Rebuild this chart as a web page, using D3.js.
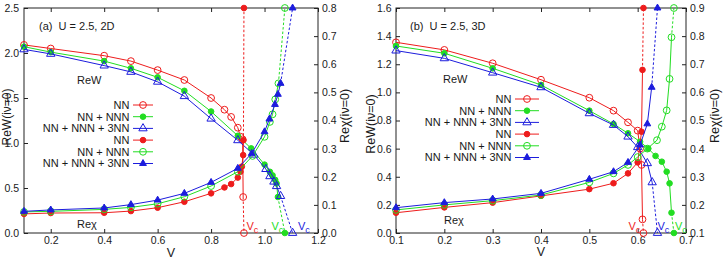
<!DOCTYPE html>
<html><head><meta charset="utf-8">
<script src="https://cdn.jsdelivr.net/npm/d3@7"></script>
<style>
body{margin:0;background:#fff}
svg{display:block}
text{font-family:"Liberation Sans",Arial,sans-serif;fill:#1a1a1a}
</style>
</head><body>
<svg id="c" width="723" height="259"></svg>
<script>
// ---------------- DATA ----------------
// Panel (a): U = 2.5, 2D
const aXTicks = [0.2,0.4,0.6,0.8,1.0,1.2];
const aYLTicks = [0,0.5,1.0,1.5,2.0,2.5];
const aYRTicks = [0,0.1,0.2,0.3,0.4,0.5,0.6,0.7,0.8];

const aReW_NN_V   = [0.1,0.2,0.4,0.5,0.6,0.7,0.8,0.85,0.875,0.9,0.91,0.918,0.92];
const aReW_NN     = [2.09,2.05,1.97,1.91,1.81,1.70,1.50,1.37,1.29,1.17,1.07,1.04,0.40];
const aReW_NN_tV  = [0.923];
const aReW_NN_t   = [0];

const aReW_NNN_V  = [0.1,0.2,0.4,0.5,0.6,0.7,0.8,0.9,0.95,1.0,1.02,1.03,1.04,1.045,1.05];
const aReW_NNN    = [2.07,2.01,1.91,1.83,1.73,1.58,1.35,1.08,0.94,0.76,0.68,0.64,0.59,0.55,0.40];
const aReW_NNN_tV = [1.076];
const aReW_NNN_t  = [0];

const aReW_3NN_V  = [0.1,0.2,0.4,0.5,0.6,0.7,0.8,0.9,0.96,1.005,1.02,1.035,1.045,1.06];
const aReW_3NN    = [2.04,1.99,1.86,1.79,1.68,1.52,1.27,1.03,0.87,0.71,0.63,0.57,0.52,0.41];
const aReW_3NN_tV = [1.105];
const aReW_3NN_t  = [0];

const aChi_NN_V   = [0.1,0.2,0.4,0.5,0.6,0.7,0.8,0.85,0.875,0.9,0.91,0.915,0.92,0.921];
const aChi_NN     = [0.068,0.071,0.072,0.078,0.09,0.111,0.141,0.162,0.174,0.197,0.218,0.236,0.277,0.33];
const aChi_NN_tV  = [0.923];
const aChi_NN_t   = [0.8];

const aChi_NNN_V  = [0.1,0.2,0.4,0.5,0.6,0.7,0.8,0.9,0.955,1.0,1.02,1.03,1.04,1.052];
const aChi_NNN    = [0.075,0.077,0.084,0.091,0.104,0.129,0.167,0.218,0.274,0.342,0.395,0.422,0.475,0.532];
const aChi_NNN_tV = [1.076];
const aChi_NNN_t  = [0.8];

const aChi_3NN_V  = [0.1,0.2,0.4,0.5,0.6,0.7,0.8,0.9,0.952,1.0,1.018,1.039,1.05,1.06];
const aChi_3NN    = [0.077,0.082,0.089,0.101,0.117,0.141,0.18,0.23,0.283,0.36,0.405,0.457,0.493,0.532];
const aChi_3NN_tV = [1.105];
const aChi_3NN_t  = [0.8];

// Panel (b): U = 2.5, 3D
const bXTicks = [0.1,0.2,0.3,0.4,0.5,0.6,0.7];
const bYLTicks = [0,0.2,0.4,0.6,0.8,1.0,1.2,1.4,1.6];
const bYRTicks = [0.1,0.2,0.3,0.4,0.5,0.6,0.7,0.8,0.9];

const bReW_NN_V   = [0.1,0.2,0.3,0.4,0.5,0.55,0.58,0.6,0.605,0.608,0.61];
const bReW_NN     = [1.356,1.302,1.207,1.09,0.962,0.87,0.787,0.728,0.60,0.484,0.097];
const bReW_NN_tV  = [0.612];
const bReW_NN_t   = [0];

const bReW_NNN_V  = [0.1,0.2,0.3,0.4,0.5,0.55,0.58,0.605,0.622,0.637,0.65,0.66,0.666,0.67];
const bReW_NNN    = [1.33,1.278,1.171,1.053,0.87,0.775,0.709,0.649,0.60,0.548,0.507,0.436,0.353,0.144];
const bReW_NNN_tV = [0.675];
const bReW_NNN_t  = [0];

const bReW_3NN_V  = [0.1,0.2,0.3,0.4,0.5,0.55,0.58,0.6,0.62,0.63];
const bReW_3NN    = [1.297,1.242,1.14,1.036,0.851,0.768,0.685,0.61,0.496,0.36];
const bReW_3NN_tV = [0.641];
const bReW_3NN_t  = [0];

const bChi_NN_V   = [0.1,0.2,0.3,0.4,0.5,0.55,0.58,0.6,0.608,0.61];
const bChi_NN     = [0.172,0.191,0.208,0.232,0.256,0.277,0.312,0.351,0.46,0.68];
const bChi_NN_tV  = [0.612];
const bChi_NN_t   = [0.9];

const bChi_NNN_V  = [0.1,0.2,0.3,0.4,0.5,0.55,0.58,0.6,0.62,0.64,0.65,0.66,0.666,0.67];
const bChi_NNN    = [0.182,0.2,0.215,0.235,0.28,0.312,0.342,0.37,0.40,0.43,0.478,0.536,0.648,0.796];
const bChi_NNN_tV = [0.675];
const bChi_NNN_t  = [0.9];

const bChi_3NN_V  = [0.1,0.2,0.3,0.4,0.5,0.55,0.58,0.605,0.62,0.629];
const bChi_3NN    = [0.19,0.208,0.221,0.241,0.291,0.318,0.351,0.413,0.488,0.618];
const bChi_3NN_tV = [0.641];
const bChi_3NN_t  = [0.9];

const legendLabels = ["NN","NN + NNN","NN + NNN + 3NN","NN","NN + NNN","NN + NNN + 3NN"];

// ---------------- STYLE ----------------
const RED="#ee1c1c", GREEN="#22dd22", BLUE="#1c1cdd";
const styles = [
  {c:RED,  m:"circle",   fill:false},
  {c:GREEN,m:"circle",   fill:true},
  {c:BLUE, m:"triangle", fill:false},
  {c:RED,  m:"circle",   fill:true},
  {c:GREEN,m:"circle",   fill:false},
  {c:BLUE, m:"triangle", fill:true}
];

const zip = (a,b)=>a.map((v,i)=>[v,b[i]]);
const svg = d3.select("#c");
const TOP=8, BOT=233;

function marker(g, st, px, py){
  if(st.m==="circle"){
    g.append("circle").attr("cx",px).attr("cy",py).attr("r",st.fill?2.8:3.4)
      .attr("fill",st.fill?st.c:"none").attr("stroke",st.c).attr("stroke-width",1);
  } else {
    g.append("path").attr("d",d3.symbol(d3.symbolTriangle, st.fill?20:30)())
      .attr("transform",`translate(${px},${py})`)
      .attr("fill",st.fill?st.c:"none").attr("stroke",st.c).attr("stroke-width",1);
  }
}

function panel(p){
  const g = svg.append("g");
  const x = d3.scaleLinear().domain(p.xDom).range([p.x0,p.x1]);
  const yL = d3.scaleLinear().domain(p.yLDom).range([BOT,TOP]);
  const yR = d3.scaleLinear().domain(p.yRDom).range([BOT,TOP]);
  const f = d3.format(".1f");
  const styleAxis = a => { a.select(".domain").remove(); a.selectAll("line").attr("stroke","#222");
    a.selectAll("text").attr("font-size",10.5).attr("font-family",null); a.attr("font-family",null); };

  g.append("g").attr("transform",`translate(0,${BOT})`)
    .call(d3.axisBottom(x).tickValues(p.xTicks).tickFormat(f).tickSize(-4).tickPadding(4)).call(styleAxis);
  g.append("g").attr("transform",`translate(0,${TOP})`)
    .call(d3.axisTop(x).tickValues(p.xTicks).tickFormat("").tickSize(-4)).call(styleAxis);
  g.append("g").attr("transform",`translate(${p.x0},0)`)
    .call(d3.axisLeft(yL).tickValues(p.yLTicks).tickFormat(f).tickSize(-4).tickPadding(p.lpad)).call(styleAxis);
  g.append("g").attr("transform",`translate(${p.x1},0)`)
    .call(d3.axisRight(yR).tickValues(p.yRTicks).tickFormat(f).tickSize(-4).tickPadding(4)).call(styleAxis);

  g.append("rect").attr("x",p.x0).attr("y",TOP).attr("width",p.x1-p.x0).attr("height",BOT-TOP)
    .attr("fill","none").attr("stroke","#222").attr("stroke-width",1);

  // series
  p.series.forEach((s,i)=>{
    const st = styles[i];
    const y = i<3 ? yL : yR;
    const line = d3.line().x(d=>x(d[0])).y(d=>y(d[1]));
    const main = zip(s[0],s[1]);
    const tail = zip(s[2],s[3]);
    g.append("path").attr("d",line(main)).attr("fill","none").attr("stroke",st.c).attr("stroke-width",1);
    g.append("path").attr("d",line([main[main.length-1]].concat(tail))).attr("fill","none")
      .attr("stroke",st.c).attr("stroke-width",1).attr("stroke-dasharray","2.5,2");
    main.concat(tail).forEach(d=>marker(g,st,x(d[0]),y(d[1])));
  });

  // legend
  legendLabels.forEach((t,i)=>{
    const st = styles[i];
    const yy = p.legY + i*11.7;
    g.append("text").attr("x",p.legX).attr("y",yy).attr("dy","0.35em").attr("text-anchor","end")
      .attr("font-size",11).text(t);
    g.append("line").attr("x1",p.legX+3.5).attr("x2",p.legX+3.5+p.legL).attr("y1",yy).attr("y2",yy)
      .attr("stroke",st.c).attr("stroke-width",1);
    marker(g,st,p.legX+3.5+p.legL/2,yy);
  });

  // labels
  g.append("text").attr("x",p.titleX).attr("y",29.5).attr("font-size",11).attr("xml:space","preserve").text(p.title);
  g.append("text").attr("x",p.rewX).attr("y",p.rewY).attr("font-size",11).text("ReW");
  g.append("text").attr("x",p.chiX).attr("y",p.chiY).attr("font-size",11).text("Reχ");
  g.append("text").attr("x",(p.x0+p.x1)/2).attr("y",p.vY).attr("text-anchor","middle").attr("font-size",12.5).text("V");
  g.append("text").attr("transform",`translate(${p.lLabX},${p.lLabY}) rotate(-90)`).attr("text-anchor","middle")
    .attr("dominant-baseline","central").attr("font-size",p.lLabF).text("ReW(iν=0)");
  g.append("text").attr("transform",`translate(${p.rLabX},${p.rLabY}) rotate(-90)`).attr("text-anchor","middle")
    .attr("dominant-baseline","central").attr("font-size",12.5).text("Reχ(iν=0)");

  // Vc markers
  p.vc.forEach((vx,i)=>{
    const t = g.append("text").attr("x",vx).attr("y",229.5).attr("font-size",11).attr("fill",[RED,GREEN,BLUE][i])
      .style("fill",[RED,GREEN,BLUE][i]);
    t.append("tspan").text("V");
    t.append("tspan").attr("dy",3).attr("font-size",9).text("c");
  });
}

panel({
  xDom:[0.1,1.2], x0:24, x1:318, yLDom:[0,2.5], yRDom:[0,0.8],
  xTicks:aXTicks, yLTicks:aYLTicks, yRTicks:aYRTicks, lpad:5,
  series:[
    [aReW_NN_V,aReW_NN,aReW_NN_tV,aReW_NN_t],
    [aReW_NNN_V,aReW_NNN,aReW_NNN_tV,aReW_NNN_t],
    [aReW_3NN_V,aReW_3NN,aReW_3NN_tV,aReW_3NN_t],
    [aChi_NN_V,aChi_NN,aChi_NN_tV,aChi_NN_t],
    [aChi_NNN_V,aChi_NNN,aChi_NNN_tV,aChi_NNN_t],
    [aChi_3NN_V,aChi_3NN,aChi_3NN_tV,aChi_3NN_t]
  ],
  legX:129.5, legY:105, legL:20,
  title:"(a)  U = 2.5, 2D", titleX:39,
  rewX:77, rewY:84, chiX:77, chiY:228, vY:256.5,
  lLabX:7, lLabY:117, lLabF:12, rLabX:345, rLabY:116,
  vc:[246.5,271.5,298]
});

panel({
  xDom:[0.1,0.7], x0:396, x1:686, yLDom:[0,1.6], yRDom:[0.1,0.9],
  xTicks:bXTicks, yLTicks:bYLTicks, yRTicks:bYRTicks, lpad:4.5,
  series:[
    [bReW_NN_V,bReW_NN,bReW_NN_tV,bReW_NN_t],
    [bReW_NNN_V,bReW_NNN,bReW_NNN_tV,bReW_NNN_t],
    [bReW_3NN_V,bReW_3NN,bReW_3NN_tV,bReW_3NN_t],
    [bChi_NN_V,bChi_NN,bChi_NN_tV,bChi_NN_t],
    [bChi_NNN_V,bChi_NNN,bChi_NNN_tV,bChi_NNN_t],
    [bChi_3NN_V,bChi_3NN,bChi_3NN_tV,bChi_3NN_t]
  ],
  legX:511.5, legY:99, legL:24,
  title:"(b)  U = 2.5, 3D", titleX:410,
  rewX:443, rewY:83, chiX:444, chiY:224, vY:256,
  lLabX:371, lLabY:124, lLabF:12.5, rLabX:715, rLabY:116,
  vc:[628.5,675,657.5]
});
</script>
</body></html>
